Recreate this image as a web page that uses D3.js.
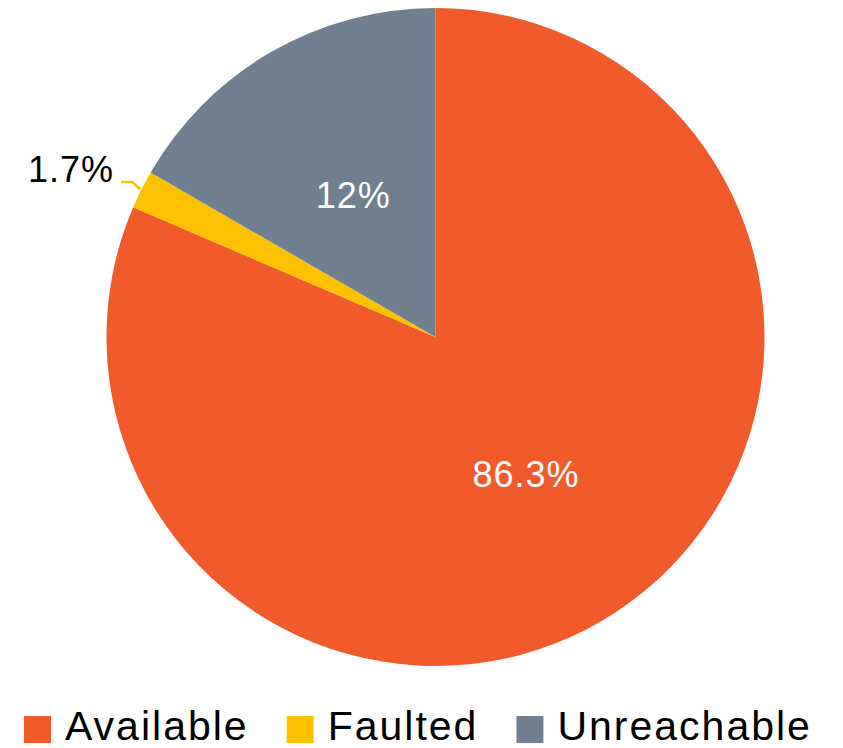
<!DOCTYPE html>
<html>
<head>
<meta charset="utf-8">
<script src="https://cdn.jsdelivr.net/npm/d3@7"></script>
<style>
  html, body { margin: 0; padding: 0; background: #fff; }
  svg { display: block; }
  text { font-family: "Liberation Sans", Arial, sans-serif; }
</style>
</head>
<body>
<svg id="chart" width="843" height="748"></svg>
<script>
// Data (slice sizes; labels as printed)
const categories = ["Available", "Faulted", "Unreachable"];
const sliceValues = [81.45, 1.88, 16.67];
const sliceLabels = ["86.3%", "1.7%", "12%"];
const colors = ["#F15A2B", "#FFC000", "#708090"];

const svg = d3.select("#chart");
const W = 843, H = 748;
const cx = 435.5, cy = 337, R = 329;

const data = categories.map((c, i) => ({ name: c, value: sliceValues[i], label: sliceLabels[i], color: colors[i] }));

const pie = d3.pie().value(d => d.value).sort(null);
const arcs = pie(data);
const arc = d3.arc().innerRadius(0).outerRadius(R);
const labelArc = d3.arc().innerRadius(R * 0.5).outerRadius(R * 0.5);

const g = svg.append("g").attr("transform", `translate(${cx},${cy})`);

g.selectAll("path.slice")
  .data(arcs)
  .join("path")
  .attr("class", "slice")
  .attr("d", arc)
  .attr("fill", d => d.data.color);

// Inside labels (large slices)
const inside = arcs.filter(d => (d.endAngle - d.startAngle) > 0.3);
g.selectAll("text.inlabel")
  .data(inside)
  .join("text")
  .attr("class", "inlabel")
  .attr("transform", d => `translate(${labelArc.centroid(d)})`)
  .attr("text-anchor", "middle")
  .attr("dy", "0.36em")
  .attr("fill", "#fff")
  .attr("font-size", 36)
  .attr("letter-spacing", 1)
  .text(d => d.data.label);

// Outside labels with leader lines (small slices)
const outside = arcs.filter(d => (d.endAngle - d.startAngle) <= 0.3);
outside.forEach(d => {
  const a = (d.startAngle + d.endAngle) / 2;
  const p0 = [Math.sin(a) * (R + 1), -Math.cos(a) * (R + 1)];
  const p1 = [Math.sin(a) * (R + 17) + 6, -Math.cos(a) * (R + 17)];
  const p2 = [p1[0] - 11, p1[1]];
  g.append("polyline")
    .attr("points", [p0, p1, p2].map(p => p.join(",")).join(" "))
    .attr("fill", "none")
    .attr("stroke", d.data.color)
    .attr("stroke-width", 2.5);
  g.append("text")
    .attr("x", p2[0] - 7)
    .attr("y", p2[1])
    .attr("text-anchor", "end")
    .attr("fill", "#000")
    .attr("font-size", 36)
    .attr("letter-spacing", 1)
    .text(d.data.label);
});

// Legend
const legend = svg.append("g");
const sq = 27, gapText = 14, gapItem = 38, fs = 41;
let x = 0;
data.forEach(d => {
  const it = legend.append("g");
  it.append("rect").attr("x", 0).attr("y", -sq + 3).attr("width", sq).attr("height", sq).attr("fill", d.color);
  const t = it.append("text")
    .attr("x", sq + gapText)
    .attr("y", 0)
    .attr("font-size", fs)
    .attr("letter-spacing", 2)
    .attr("fill", "#000")
    .text(d.name);
  const w = sq + gapText + t.node().getComputedTextLength();
  it.attr("transform", `translate(${x},0)`);
  x += w + gapItem;
});
legend.attr("transform", `translate(24,740)`);
</script>
</body>
</html>
